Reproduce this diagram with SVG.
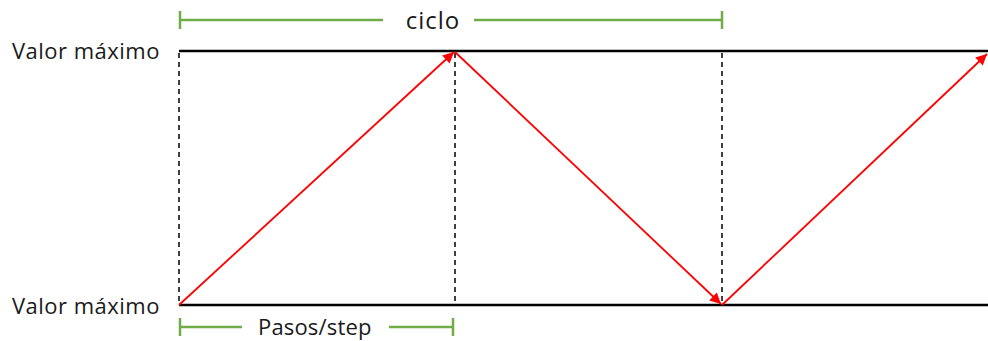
<svg xmlns="http://www.w3.org/2000/svg" width="988" height="341" viewBox="0 0 988 341">
<style>
.lbl{font-family:"Open Sans","Noto Sans","Liberation Sans",sans-serif;font-size:22px;letter-spacing:0.6px;fill:#1a1a1a}
.big{font-size:24px;letter-spacing:1px}
.axis{stroke:#000;stroke-width:2.5;fill:none}
.dash{stroke:#000;stroke-width:1.5;stroke-dasharray:5,4;fill:none}
.red{stroke:#ff0000;stroke-width:1.8;fill:none}
.grn{stroke:#70ad47;stroke-width:2.5;fill:none}
</style>
<defs>
<marker id="ah" viewBox="0 0 10 10" refX="10" refY="5" markerWidth="13" markerHeight="11" markerUnits="userSpaceOnUse" orient="auto">
<path d="M0,0 L10,5 L0,10 z" fill="#ff0000"/>
</marker>
</defs>
<rect width="988" height="341" fill="#fff"/>
<g id="axes">
<line class="axis" x1="179" y1="51" x2="988" y2="51"/>
<line class="axis" x1="179" y1="305" x2="988" y2="305"/>
</g>
<g id="guides">
<line class="dash" x1="179" y1="53" x2="179" y2="305"/>
<line class="dash" x1="455" y1="53" x2="455" y2="305"/>
<line class="dash" x1="722" y1="53" x2="722" y2="305"/>
</g>
<g id="labels">
<text class="lbl" x="12" y="59" textLength="148" lengthAdjust="spacing">Valor máximo</text>
<text class="lbl" x="12" y="314" textLength="148" lengthAdjust="spacing">Valor máximo</text>
</g>
<g id="connectors">
<line class="red" x1="179" y1="305" x2="454" y2="52" marker-end="url(#ah)"/>
<line class="red" x1="455" y1="52" x2="721" y2="304" marker-end="url(#ah)"/>
<line class="red" x1="722" y1="305" x2="987" y2="54" marker-end="url(#ah)"/>
</g>
<g id="ciclo">
<line class="grn" x1="180" y1="11" x2="180" y2="29"/>
<line class="grn" x1="180" y1="20" x2="383" y2="20"/>
<line class="grn" x1="474" y1="20" x2="722" y2="20"/>
<line class="grn" x1="722" y1="11" x2="722" y2="29"/>
<text class="lbl big" x="433" y="29" text-anchor="middle">ciclo</text>
</g>
<g id="pasos">
<line class="grn" x1="180" y1="318" x2="180" y2="336"/>
<line class="grn" x1="180" y1="327" x2="242" y2="327"/>
<line class="grn" x1="389" y1="327" x2="453" y2="327"/>
<line class="grn" x1="453" y1="318" x2="453" y2="336"/>
<text class="lbl" x="258" y="335" textLength="114" lengthAdjust="spacing">Pasos/step</text>
</g>
</svg>
